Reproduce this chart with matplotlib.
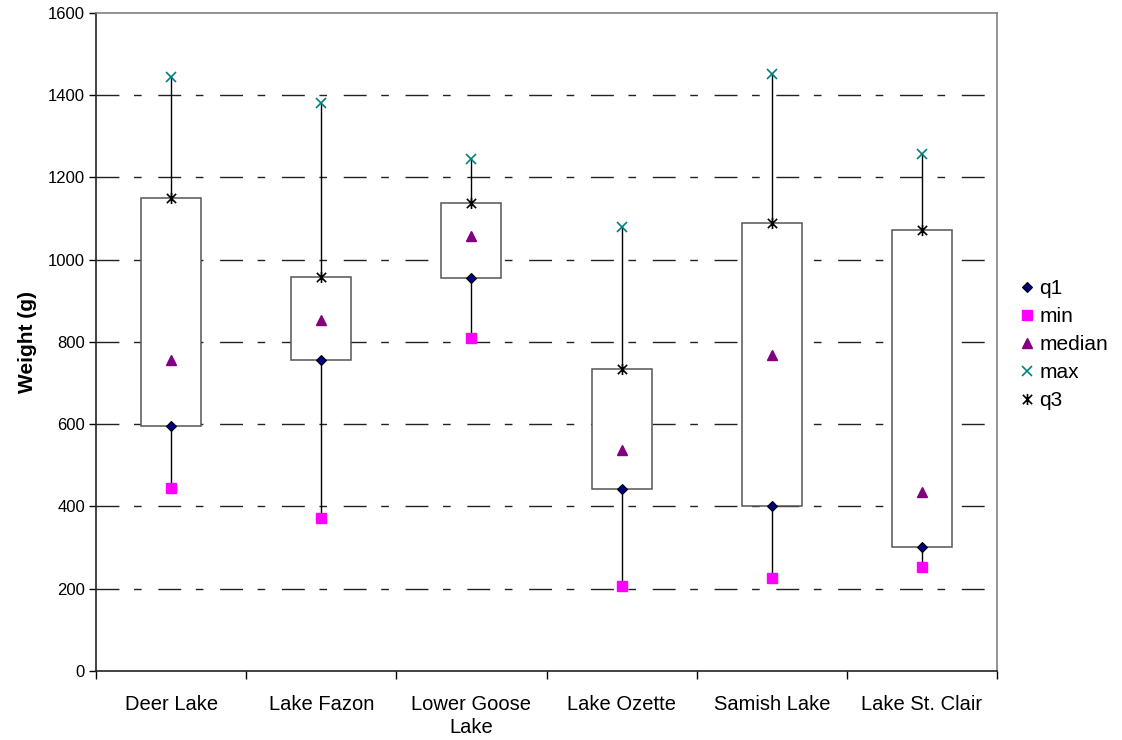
"""
Fish weight by lake, drawn as an Excel-style stock chart.
"""

import matplotlib

matplotlib.use("Agg")
import matplotlib.pyplot as plt
from matplotlib.patches import Rectangle
from matplotlib.path import Path

plt.rcParams["font.family"] = ["Liberation Sans", "DejaVu Sans"]

lakes = ["Deer Lake", "Lake Fazon", "Lower Goose\nLake", "Lake Ozette", "Samish Lake", "Lake St. Clair"]
w_min = [445, 372, 809, 207, 225, 252]
w_q1 = [595, 755, 955, 442, 400, 302]
w_median = [755, 852, 1058, 538, 768, 435]
w_q3 = [1150, 958, 1138, 733, 1090, 1073]
w_max = [1443, 1380, 1245, 1078, 1450, 1257]

# x with a vertical bar, like Excel's star marker
star = Path(
    [(-1, -1), (1, 1), (-1, 1), (1, -1), (0, -1.2), (0, 1.2)],
    [Path.MOVETO, Path.LINETO, Path.MOVETO, Path.LINETO, Path.MOVETO, Path.LINETO],
)

fig = plt.figure(figsize=(11.22, 7.4), dpi=100)
ax = fig.add_axes([0.0856, 0.0932, 0.8030, 0.8896])

xs = list(range(len(lakes)))

for y in range(200, 1600, 200):
    ax.axhline(y, color="#222222", lw=1.0, dashes=(16.5, 10.5, 5.5, 12), zorder=1)

box_w = 0.4
for x, lo, hi, q1, q3 in zip(xs, w_min, w_max, w_q1, w_q3):
    ax.plot([x, x], [lo, hi], color="black", lw=1.0, zorder=2)
    ax.add_patch(
        Rectangle((x - box_w / 2, q1), box_w, q3 - q1, facecolor="white",
                  edgecolor="#555555", lw=1.1, zorder=3)
    )

ax.plot(xs, w_q1, ls="none", marker="D", ms=4.8, mfc="#000080", mec="black", mew=0.8, label="q1", zorder=5)
ax.plot(xs, w_min, ls="none", marker="s", ms=7, mfc="#FF00FF", mec="#FF00FF", label="min", zorder=5)
ax.plot(xs, w_median, ls="none", marker="^", ms=7.5, mfc="#800080", mec="#800080", label="median", zorder=5)
ax.plot(xs, w_max, ls="none", marker="x", ms=7.5, mec="#008080", mew=1.2, label="max", zorder=5)
ax.plot(xs, w_q3, ls="none", marker=star, ms=8, mec="black", mew=1.2, label="q3", zorder=5)

ax.set_xlim(-0.5, len(lakes) - 0.5)
ax.set_ylim(0, 1600)
ax.set_yticks(range(0, 1601, 200))
ax.tick_params(axis="y", labelsize=12, length=5, width=1, pad=3)
ax.set_xticks(xs)
ax.set_xticklabels(lakes, fontsize=14.5, linespacing=1.3)
ax.tick_params(axis="x", length=0, pad=17)
ax.set_xticks([x - 0.5 for x in range(len(lakes) + 1)], minor=True)
ax.tick_params(axis="x", which="minor", length=6, width=1, direction="out")
ax.set_ylabel("Weight (g)", fontsize=15, fontweight="bold", labelpad=8)

for side in ("top", "right"):
    ax.spines[side].set_color("#808080")
    ax.spines[side].set_linewidth(1.2)
for side in ("left", "bottom"):
    ax.spines[side].set_color("#222222")
    ax.spines[side].set_linewidth(1.2)

fig.legend(
    handles=ax.get_lines()[-5:], loc="center left",
    bbox_to_anchor=(1021 / 1122, 1 - 344.5 / 740), frameon=False, fontsize=15,
    handlelength=0.6, handletextpad=0.28, labelspacing=0.43, borderpad=0, borderaxespad=0,
)

fig.savefig("out.png", dpi=100)
